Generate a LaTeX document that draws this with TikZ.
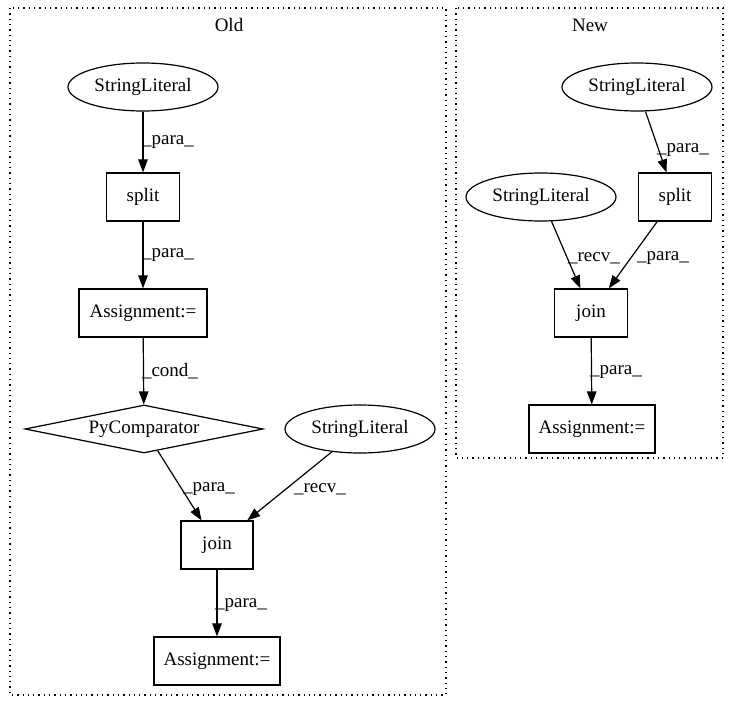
\documentclass[tikz,border=0pt]{standalone}
\usepackage{fontspec}
\setmainfont{Liberation Serif}
\usetikzlibrary{shapes.geometric,arrows.meta}
\begin{document}
\begin{tikzpicture}[x=1pt,y=-1pt,
  every node/.style={font=\fontsize{19}{22}\selectfont},
  boxnode/.style={draw,line width=1.2pt,rectangle,inner sep=0pt,minimum height=48pt},
  ellnode/.style={draw,line width=1.2pt,ellipse,inner sep=0pt,minimum width=150pt,minimum height=48pt},
  dianode/.style={draw,line width=1.2pt,diamond,aspect=5,inner sep=0pt,minimum width=238pt,minimum height=48pt},
  edge/.style={draw,line width=1.2pt,-{Triangle[length=13pt,width=9.5pt]}},
  elabel/.style={inner sep=0pt},
  cluster/.style={draw,line width=1.3pt,dash pattern=on 1.3pt off 4pt}]
\useasboundingbox (0,0) rectangle (739,712);
% clusters
\draw[cluster] (10,8) rectangle (446,695);
\node (oldlbl) at (229,25) {Old};
\draw[cluster] (456,8) rectangle (723,458);
\node (newlbl) at (590,25) {New};
% Old nodes
\node[ellnode] (osl) at (143,87) {StringLiteral};
\node[boxnode,minimum width=73pt] (osplit) at (143,197) {split};
\node[boxnode,minimum width=128pt] (oas1) at (143,313) {Assignment:=};
\node[dianode] (opyc) at (144,429) {PyComparator};
\node[ellnode] (osl2) at (360,429) {StringLiteral};
\node[boxnode,minimum width=72pt] (ojoin) at (217,545) {join};
\node[boxnode,minimum width=126pt] (oas2) at (217,661) {Assignment:=};
% Old edges
\draw[edge] (osl) -- (osplit);
\draw[edge] (osplit) -- (oas1);
\draw[edge] (oas1) -- (opyc);
\draw[edge] (opyc) -- (ojoin);
\draw[edge] (osl2) -- (ojoin);
\draw[edge] (ojoin) -- (oas2);
\node[elabel] (l1) at (168,142) {\_para\_};
\node[elabel] (l2) at (168,255) {\_para\_};
\node[elabel] (l3) at (170,371) {\_cond\_};
\node[elabel] (l4) at (209,489) {\_para\_};
\node[elabel] (l5) at (320,489) {\_recv\_};
\node[elabel] (l6) at (241,605) {\_para\_};
% New nodes
\node[ellnode] (nsl1) at (637,87) {StringLiteral};
\node[boxnode,minimum width=73pt] (nsplit) at (675,197) {split};
\node[ellnode] (nsl2) at (541,197) {StringLiteral};
\node[boxnode,minimum width=73pt] (njoin) at (591,313) {join};
\node[boxnode,minimum width=126pt] (nas) at (592,429) {Assignment:=};
% New edges
\draw[edge] (nsl1) -- (nsplit);
\draw[edge] (nsl2) -- (njoin);
\draw[edge] (nsplit) -- (njoin);
\draw[edge] (njoin) -- (nas);
\node[elabel] (l7) at (683,150) {\_para\_};
\node[elabel] (l8) at (594,258) {\_recv\_};
\node[elabel] (l9) at (663,258) {\_para\_};
\node[elabel] (l10) at (616,372) {\_para\_};
\end{tikzpicture}
\end{document}
